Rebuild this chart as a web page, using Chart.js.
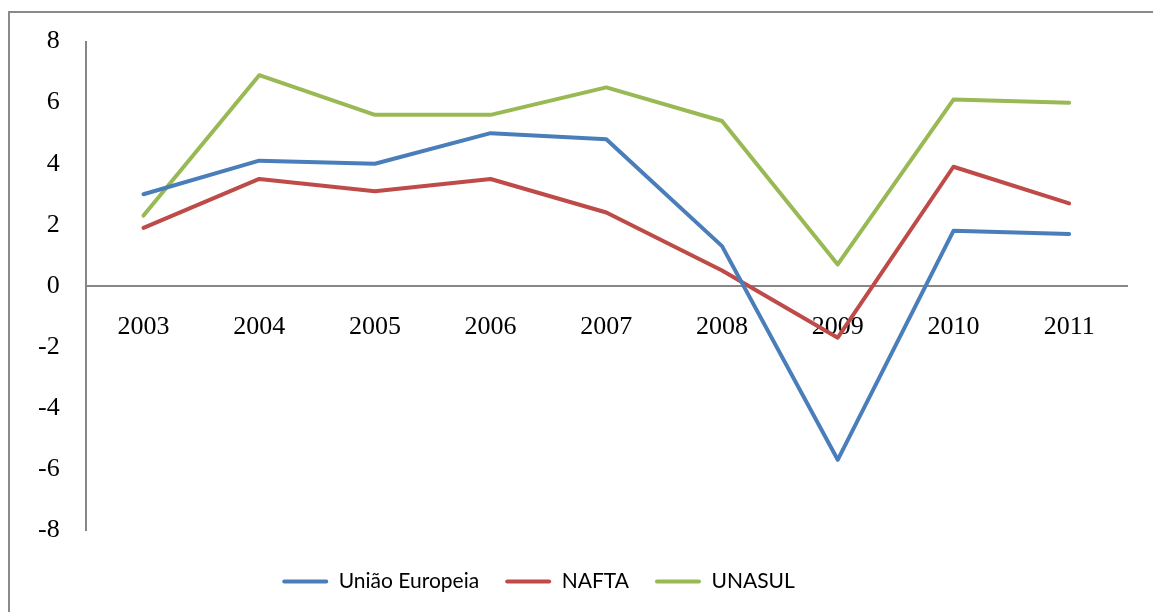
<!DOCTYPE html>
<html>
<head>
<meta charset="utf-8">
<script src="https://cdn.jsdelivr.net/npm/chart.js@4/dist/chart.umd.min.js"></script>
<style>
  html, body { margin: 0; padding: 0; background: #fff; overflow: hidden; }
  #frame { position: absolute; left: 8px; top: 11px; width: 2000px; height: 2000px; border: 2px solid #8a8a8a; }
  #wrap { position: absolute; left: 0; top: 0; width: 1153px; height: 612px; }
</style>
</head>
<body>
<div id="frame"></div>
<div id="wrap"><canvas id="c" width="1153" height="612"></canvas></div>
<script>
"use strict";

// ── Data
const years  = ["2003", "2004", "2005", "2006", "2007", "2008", "2009", "2010", "2011"];
const ue     = [3.0, 4.1, 4.0, 5.0, 4.8, 1.3, -5.7, 1.8, 1.7];
const nafta  = [1.9, 3.5, 3.1, 3.5, 2.4, 0.5, -1.7, 3.9, 2.7];
const unasul = [2.3, 6.9, 5.6, 5.6, 6.5, 5.4, 0.7, 6.1, 6.0];
const names  = ["União Europeia", "NAFTA", "UNASUL"];

const BLUE = "#4a7ebb", RED = "#be4b48", GREEN = "#98b954", AXIS = "#868686";
const TICK_FONT = { family: "'Liberation Serif', 'Times New Roman', serif", size: 26 };

const line = (label, data, color) => ({
  label, data,
  borderColor: color, backgroundColor: color,
  borderWidth: 4, pointRadius: 0, tension: 0,
  borderJoinStyle: "round", borderCapStyle: "round", fill: false,
});

// legend sits a bit left of centre in the original
const shiftLegend = {
  id: "shiftLegend",
  afterLayout(chart) {
    const lg = chart.legend;
    if (!lg) return;
    lg.left -= 31; lg.right -= 31;
  },
};

new Chart(document.getElementById("c").getContext("2d"), {
  type: "line",
  data: {
    labels: years,
    datasets: [
      line(names[0], ue, BLUE),
      line(names[1], nafta, RED),
      line(names[2], unasul, GREEN),
    ],
  },
  plugins: [shiftLegend],
  options: {
    responsive: false,
    animation: false,
    layout: { padding: { left: 12, right: 26, top: 28, bottom: 10 } },
    plugins: {
      tooltip: { enabled: false },
      legend: {
        position: "bottom",
        title: { display: true, text: "", font: { size: 5, lineHeight: 1 }, padding: 5 },
        labels: {
          boxWidth: 46, boxHeight: 4, padding: 26,
          color: "#000",
          font: { family: "Lato, 'Liberation Sans', sans-serif", size: 21 },
          useBorderRadius: true, borderRadius: 2,
          generateLabels: chart => Chart.defaults.plugins.legend.labels.generateLabels(chart)
            .map(it => ({ ...it, lineWidth: 0, fillStyle: it.strokeStyle })),
        },
      },
    },
    scales: {
      x: {
        position: { y: 0 },
        offset: true,
        grid: { display: false, drawTicks: false },
        border: { display: true, color: AXIS, width: 2 },
        ticks: { color: "#000", font: TICK_FONT, padding: 26, maxRotation: 0 },
      },
      y: {
        min: -8, max: 8,
        grid: { display: false, drawTicks: false },
        border: { display: true, color: AXIS, width: 2 },
        ticks: { stepSize: 2, color: "#000", font: TICK_FONT, padding: 26 },
      },
    },
  },
});
</script>
</body>
</html>
